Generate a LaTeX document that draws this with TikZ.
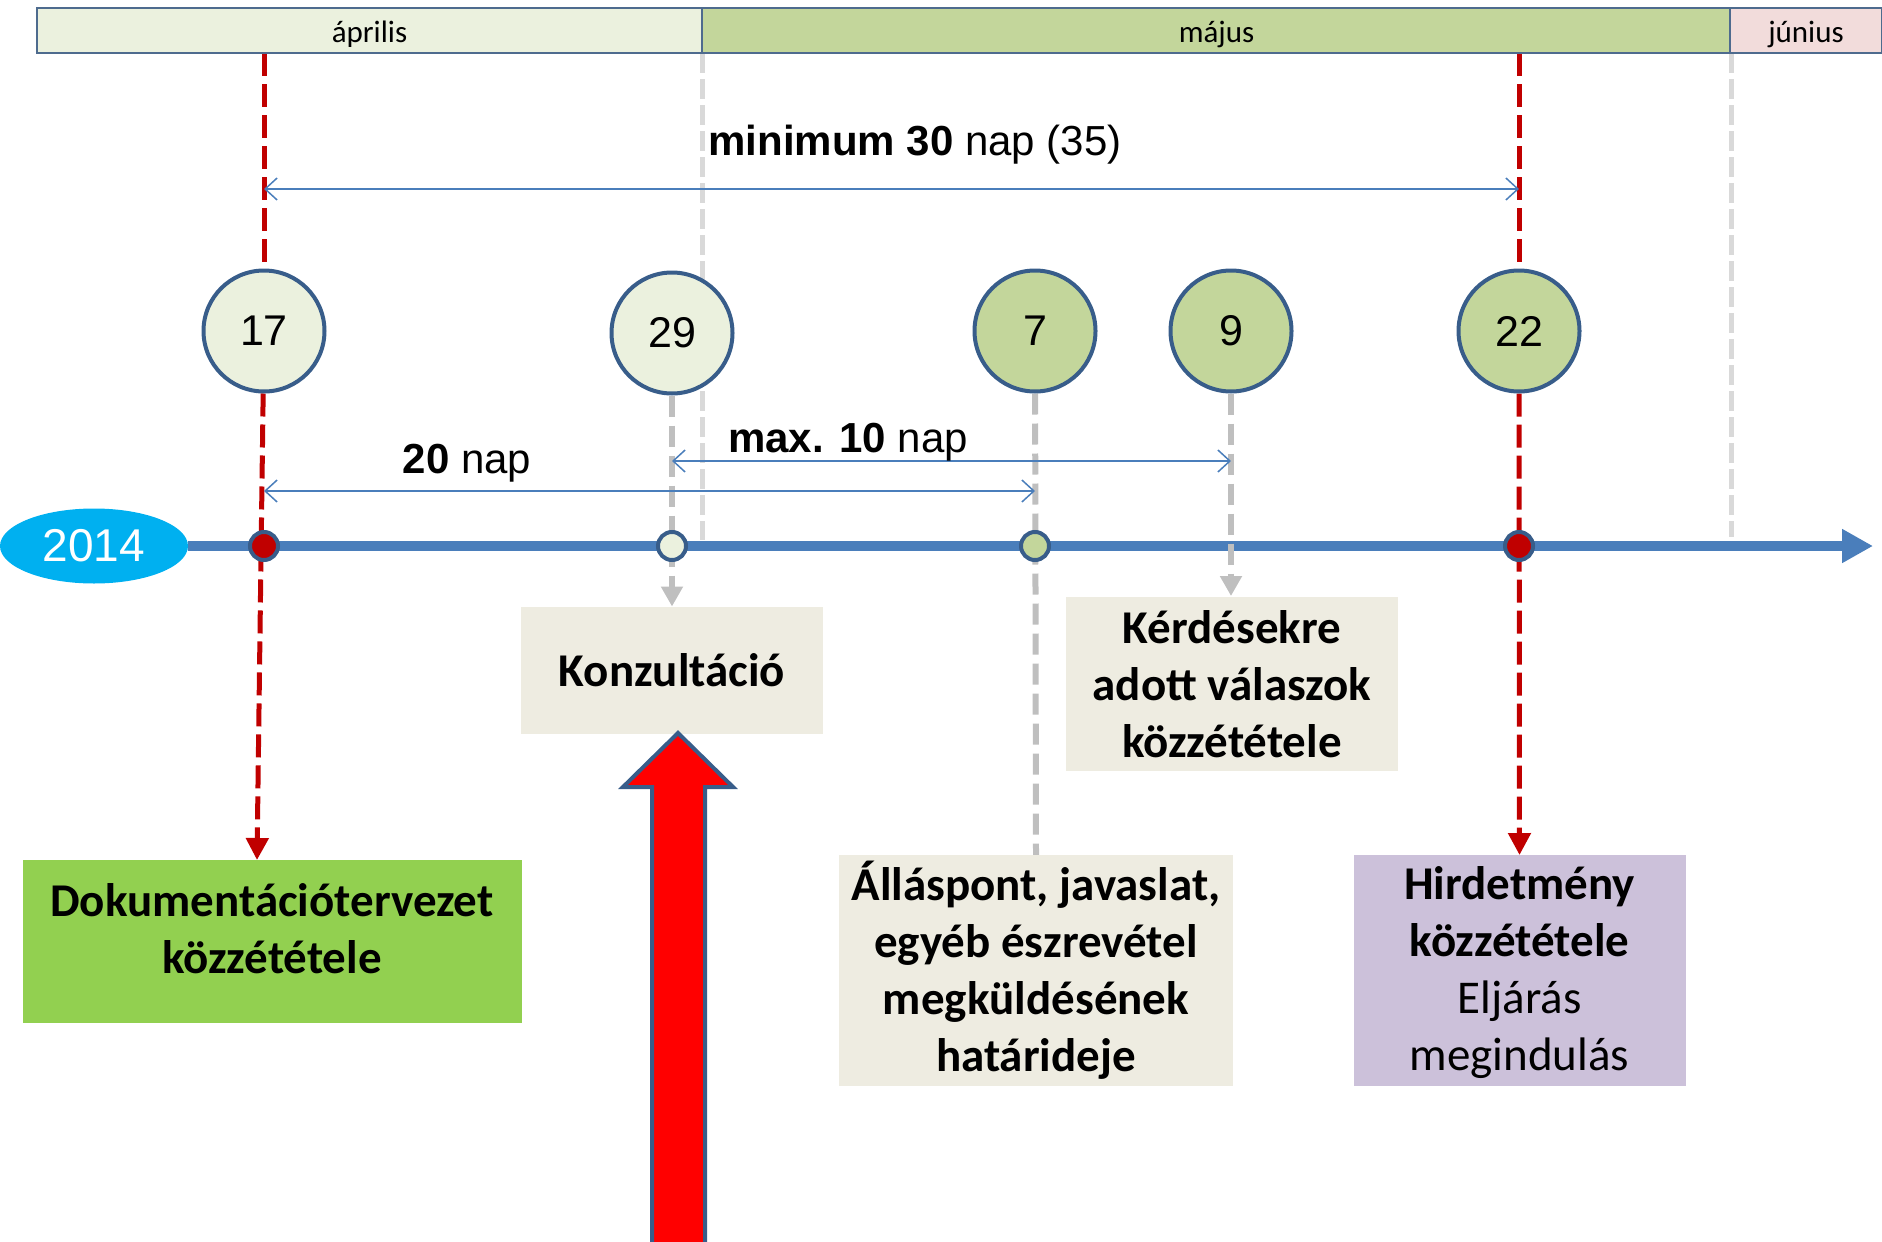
\documentclass[tikz,border=0pt]{standalone}
\usepackage{fontspec}
\setmainfont{Carlito}
\newfontfamily\arialf{Liberation Sans}
\usetikzlibrary{arrows.meta,shapes.geometric}
\definecolor{aprfill}{HTML}{EBF1DE}
\definecolor{majfill}{HTML}{C3D69B}
\definecolor{junfill}{HTML}{F2DCDB}
\definecolor{barborder}{HTML}{4E6B8E}
\definecolor{circb}{HTML}{385D8A}
\definecolor{tlblue}{HTML}{4A7EBB}
\definecolor{darkred}{HTML}{C00000}
\definecolor{midgray}{HTML}{BFBFBF}
\definecolor{lightgr}{HTML}{D9D9D9}
\definecolor{beige}{HTML}{EEECE1}
\definecolor{docgreen}{HTML}{92D050}
\definecolor{lilac}{HTML}{CCC1DA}
\definecolor{cyanell}{HTML}{00B0F0}
\definecolor{bigred}{HTML}{FF0000}
\pgfdeclarelayer{bg}
\pgfsetlayers{bg,main}
\begin{document}
\begin{tikzpicture}[x=1pt,y=-1pt,
  month/.style={rectangle, draw=barborder, line width=1.5pt, minimum height=45pt, inner sep=0pt, outer sep=0pt, text height=27pt, text depth=3pt, font=\fontsize{31}{37}\selectfont},
  daycirc/.style={circle, draw=circb, line width=4pt, minimum size=121pt, inner sep=0pt, font=\arialf\fontsize{43}{50}\selectfont},
  dot/.style={circle, draw=circb, line width=4pt, minimum size=28pt, inner sep=0pt},
  timeline/.style={draw=tlblue, line width=10pt, -{Triangle[length=31pt,width=32pt]}},
  reddash/.style={draw=darkred, line width=5pt, dash pattern=on 23pt off 8pt},
  redtip/.style={-{Triangle[length=22pt,width=22pt]}},
  graydash/.style={draw=midgray, line width=6pt, dash pattern=on 21pt off 9pt},
  graytip/.style={-{Triangle[length=20pt,width=21pt]}},
  lightdash/.style={draw=lightgr, line width=5pt, dash pattern=on 20pt off 6pt},
  dim/.style={draw=tlblue, line width=1.5pt, {Straight Barb[length=12pt,width=22pt]}-{Straight Barb[length=12pt,width=22pt]}},
  dimlabel/.style={inner sep=0pt, font=\arialf\fontsize{42}{50}\selectfont},
  box/.style={rectangle, inner sep=0pt, outer sep=0pt, align=center, font=\bfseries\fontsize{47}{57}\selectfont},
  boxtext/.style={inner sep=0pt, align=center, font=\bfseries\fontsize{47}{57}\selectfont},
  bigarrow/.style={fill=bigred, draw=circb, line width=4pt, line join=miter}
]
\useasboundingbox (0,0) rectangle (1882,1242);

% month bar
\node[month, fill=aprfill, minimum width=665pt] (apr) at (369.5,30.5) {április};
\node[month, fill=majfill, minimum width=1029pt] (maj) at (1216.5,30.5) {május};
\node[month, fill=junfill, minimum width=152pt] (jun) at (1806,30.5) {június};

% 2014 ellipse
\node[ellipse, fill=cyanell, minimum width=188pt, minimum height=75pt, inner sep=0pt, text=white, font=\arialf\fontsize{46}{54}\selectfont] (y2014) at (94,546) {2014};

% day circles
\node[daycirc, fill=aprfill] (c17) at (264,331) {17};
\node[daycirc, fill=aprfill] (c29) at (672,333) {29};
\node[daycirc, fill=majfill] (c7) at (1035,331) {7};
\node[daycirc, fill=majfill] (c9) at (1231,331) {9};
\node[daycirc, fill=majfill] (c22) at (1519,331) {22};

% dots on timeline
\node[dot, fill=darkred] (d17) at (264,546) {};
\node[dot, fill=aprfill] (d29) at (672,546) {};
\node[dot, fill=majfill] (d7) at (1035,546) {};
\node[dot, fill=darkred] (d22) at (1519,546) {};

% boxes
\node[box, fill=beige, minimum width=302pt, minimum height=127pt] (konz) at (672,670) {Konzultáció};
\node[box, fill=docgreen, minimum width=499pt, minimum height=163pt] (doku) at (272.5,941.5) {};
\node[boxtext] (dokut) at (272,929) {Dokumentációtervezet\\közzététele};
\node[box, fill=beige, minimum width=332pt, minimum height=174pt] (kerd) at (1232,684) {Kérdésekre\\adott válaszok\\közzététele};
\node[box, fill=beige, minimum width=394pt, minimum height=231pt] (allas) at (1036,970.5) {Álláspont, javaslat,\\egyéb észrevétel\\megküldésének\\határideje};
\node[box, fill=lilac, minimum width=332pt, minimum height=231pt] (hird) at (1519.5,970.5) {};
\node[boxtext] (hirdt) at (1519.5,973) {Hirdetmény\\közzététele\\\textmd{Eljárás}\\\textmd{megindulás}};

% dimension labels
\node[dimlabel, anchor=base] (lmin) at (915,155) {\textbf{minimum 30} nap (35)};
\node[dimlabel, anchor=base] (l20) at (467,473) {\textbf{20} nap};
\node[dimlabel, anchor=base] (l10) at (848,452) {\textbf{max. 10} nap};

% coordinates
\coordinate (t17) at (264,53);
\coordinate (t22) at (1519,53);
\coordinate (a17) at (257,860);
\coordinate (ta) at (702,53);
\coordinate (ba) at (702,540);
\coordinate (tm) at (1731,53);
\coordinate (bm) at (1731,537);
\coordinate (m17) at (264,189);
\coordinate (m22) at (1519,189);
\coordinate (p17) at (264,491);
\coordinate (p7) at (1035,491);
\coordinate (q29) at (672,461);
\coordinate (q9) at (1231,461);
\coordinate (k9) at (1231,596);
\coordinate (tlend) at (1873,546);

\begin{pgfonlayer}{bg}
  \draw[timeline] (y2014.east) -- (tlend);
  \draw[lightdash] (ta) -- (ba);
  \draw[lightdash] (tm) -- (bm);
  \draw[reddash] (t17) -- (c17);
  \draw[reddash, redtip] (c17) -- (a17);
  \draw[reddash] (t22) -- (c22);
  \draw[reddash, redtip] (c22) -- (hird.north);
  \draw[graydash, graytip] (c29) -- (konz.north);
  \draw[graydash] (c7) -- (allas.north);
  \draw[graydash, graytip] (c9) -- (k9);
  \draw[dim] (m17) -- (m22);
  \draw[dim] (p17) -- (p7);
  \draw[dim] (q29) -- (q9);
\end{pgfonlayer}

% big red arrow
\draw[bigarrow] (652,1246) -- (652,787) -- (623,787) -- (678,733) -- (733,787) -- (705,787) -- (705,1246) -- cycle;
\end{tikzpicture}
\end{document}
